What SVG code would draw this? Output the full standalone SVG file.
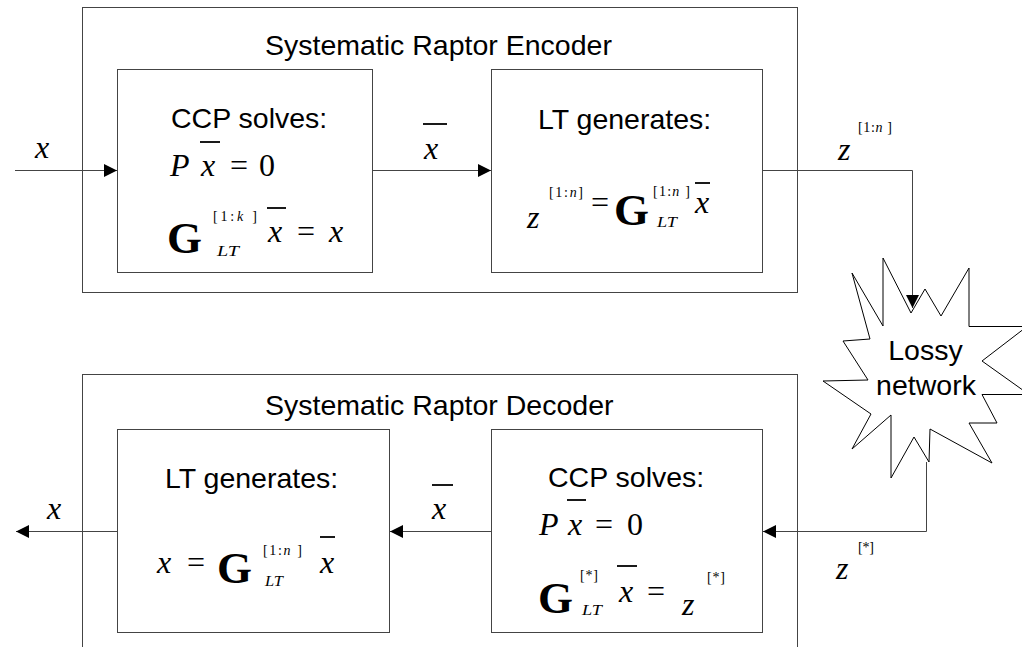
<svg xmlns="http://www.w3.org/2000/svg" width="1022" height="647" viewBox="0 0 1022 647">
<style>
.box{fill:#fff;stroke:#444;stroke-width:1}
.ln{fill:none;stroke:#444;stroke-width:1}
.bar{stroke:#000;stroke-width:1.8}
.sans{font-family:"Liberation Sans",Arial,sans-serif;font-size:28.5px;fill:#000}
.m{font-family:"Liberation Serif","Times New Roman",serif;font-size:32px;fill:#000}
.i{font-style:italic}
.G{font-family:"Liberation Serif","Times New Roman",serif;font-size:45px;font-weight:bold;fill:#000}
.s{font-family:"Liberation Serif","Times New Roman",serif;font-size:14px;fill:#000}
</style>
<defs>
<marker id="ah" markerUnits="userSpaceOnUse" markerWidth="14" markerHeight="14" refX="13" refY="6.5" orient="auto">
<path d="M0,0 L13,6.5 L0,13 z" fill="#000"/>
</marker>
</defs>
<rect width="1022" height="647" fill="#fff"/>

<g id="encoder">
<rect class="box" x="82.5" y="7.5" width="715" height="285"/>
<text class="sans" x="265" y="55">Systematic Raptor Encoder</text>
</g>
<g id="decoder">
<rect class="box" x="82.5" y="374.5" width="715" height="290"/>
<text class="sans" x="265" y="415">Systematic Raptor Decoder</text>
</g>

<g id="enc-ccp">
<rect class="box" x="117.5" y="69.5" width="255" height="203"/>
<text class="sans" x="171" y="128">CCP solves:</text>
<text class="m i" x="170" y="176">P</text>
<line class="bar" x1="200" y1="142" x2="220" y2="142"/>
<text class="m i" x="201" y="176">x</text>
<text class="m" x="230" y="176">=</text>
<text class="m" x="259" y="176">0</text>
<text class="G" x="167" y="253">G</text>
<text class="s" x="213" y="221" textLength="44" lengthAdjust="spacing">[1:<tspan font-style="italic">k</tspan> ]</text>
<text class="s i" x="217" y="256" textLength="22" lengthAdjust="spacingAndGlyphs">LT</text>
<line class="bar" x1="267" y1="208" x2="286" y2="208"/>
<text class="m i" x="268" y="242">x</text>
<text class="m" x="297" y="242">=</text>
<text class="m i" x="329" y="242">x</text>
</g>

<g id="enc-lt">
<rect class="box" x="491.5" y="69.5" width="271" height="203"/>
<text class="sans" x="538" y="129">LT generates:</text>
<text class="m i" x="527" y="228">z</text>
<text class="s" x="549" y="197" textLength="34" lengthAdjust="spacing">[1:<tspan font-style="italic">n</tspan>]</text>
<text class="m" x="591" y="213">=</text>
<text class="G" x="614" y="225">G</text>
<text class="s" x="653" y="196" textLength="37" lengthAdjust="spacing">[1:<tspan font-style="italic">n</tspan> ]</text>
<text class="s i" x="657" y="227" textLength="20" lengthAdjust="spacingAndGlyphs">LT</text>
<line class="bar" x1="695" y1="183" x2="710" y2="183"/>
<text class="m i" x="695" y="213">x</text>
</g>

<g id="dec-lt">
<rect class="box" x="117.5" y="429.5" width="272" height="203"/>
<text class="sans" x="165" y="488">LT generates:</text>
<text class="m i" x="157" y="573">x</text>
<text class="m" x="187" y="573">=</text>
<text class="G" x="217" y="583">G</text>
<text class="s" x="263" y="555" textLength="39" lengthAdjust="spacing">[1:<tspan font-style="italic">n</tspan> ]</text>
<text class="s i" x="265" y="586" textLength="18" lengthAdjust="spacingAndGlyphs">LT</text>
<line class="bar" x1="320" y1="537" x2="335" y2="537"/>
<text class="m i" x="320" y="573">x</text>
</g>

<g id="dec-ccp">
<rect class="box" x="491.5" y="429.5" width="271" height="203"/>
<text class="sans" x="548" y="487">CCP solves:</text>
<text class="m i" x="539" y="535">P</text>
<line class="bar" x1="567" y1="500" x2="586" y2="500"/>
<text class="m i" x="568" y="535">x</text>
<text class="m" x="595" y="535">=</text>
<text class="m" x="627" y="535">0</text>
<text class="G" x="538" y="613">G</text>
<text class="s" x="580" y="580" textLength="18" lengthAdjust="spacing">[*]</text>
<text class="s i" x="582" y="615" textLength="20" lengthAdjust="spacingAndGlyphs">LT</text>
<line class="bar" x1="617" y1="566" x2="637" y2="566"/>
<text class="m i" x="619" y="602">x</text>
<text class="m" x="647" y="602">=</text>
<text class="m i" x="682" y="615">z</text>
<text class="s" x="707" y="582" textLength="18" lengthAdjust="spacing">[*]</text>
</g>

<g id="network">
<polygon fill="#fff" stroke="#000" stroke-width="1" points="852,273 883,326 883,258 911,313 925,289 941,316 969,268 969,326.5 1027,326.5 982,361 1029,394.5 982,394.5 997,423 969,423 992,463 930,429 929,462 914,437 891,478 891,415 852,449 871,414 823,381 868,380 843,341 870,339"/>
<text class="sans" x="925.5" y="360" text-anchor="middle">Lossy</text>
<text class="sans" x="926" y="395" text-anchor="middle">network</text>
</g>

<g id="connectors">
<line class="ln" x1="15" y1="170.5" x2="117" y2="170.5" marker-end="url(#ah)"/>
<line class="ln" x1="372" y1="170.5" x2="491" y2="170.5" marker-end="url(#ah)"/>
<polyline class="ln" points="762,170.5 912.5,170.5 912.5,308" marker-end="url(#ah)"/>
<polyline class="ln" points="926.5,462 926.5,531.5 763,531.5" marker-end="url(#ah)"/>
<line class="ln" x1="491" y1="531.5" x2="390" y2="531.5" marker-end="url(#ah)"/>
<line class="ln" x1="117" y1="531.5" x2="16" y2="531.5" marker-end="url(#ah)"/>
</g>

<g id="labels">
<text class="m i" x="35" y="158">x</text>
<line class="bar" x1="423" y1="124" x2="447" y2="124"/>
<text class="m i" x="424" y="159">x</text>
<text class="m i" x="838" y="160">z</text>
<text class="s" x="858" y="132" textLength="34" lengthAdjust="spacing">[1:<tspan font-style="italic">n</tspan> ]</text>
<text class="m i" x="47" y="519">x</text>
<line class="bar" x1="432" y1="485" x2="453" y2="485"/>
<text class="m i" x="432" y="519">x</text>
<text class="m i" x="836" y="579">z</text>
<text class="s" x="858" y="552" textLength="16" lengthAdjust="spacing">[*]</text>
</g>
</svg>
